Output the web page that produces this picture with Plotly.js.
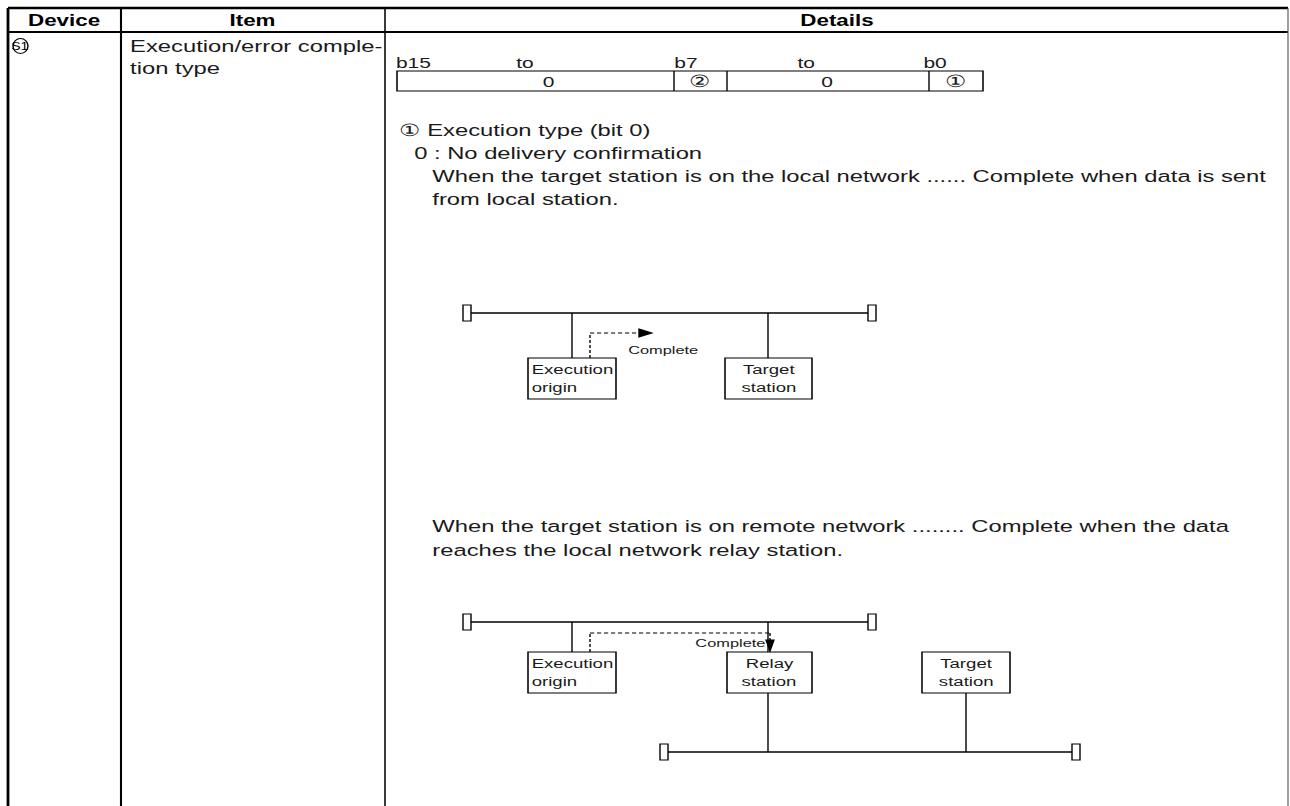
<!DOCTYPE html>
<html>
<head>
<meta charset="utf-8">
<script src="https://cdn.plot.ly/plotly-3.0.1.min.js"></script>
<style>
html,body{margin:0;padding:0;background:#fff;overflow:hidden;}
#chart{width:922px;height:806px;transform:scaleX(1.39913);transform-origin:0 0;}
</style>
</head>
<body>
<div id="chart"></div>
<script>
// ---- content (text) ----
const headers = ["Device", "Item", "Details"];
const deviceLabel = "S1";
const itemLines = ["Execution/error comple-", "tion type"];
const bitLabels = ["b15", "to", "b7", "to", "b0"];
const bitCells = ["0", "\u2461", "0", "\u2460"];
const detailLines = [
  "\u2460 Execution type (bit 0)",
  "0 : No delivery confirmation",
  "When the target station is on the local network ...... Complete when data is sent",
  "from local station."
];
const remoteLines = [
  "When the target station is on remote network ........ Complete when the data",
  "reaches the local network relay station."
];
const diag1Boxes = [["Execution", "origin"], ["Target", "station"]];
const diag2Boxes = [["Execution", "origin"], ["Relay", "station"], ["Target", "station"]];
const arrowLabel = "Complete";

// ---- drawing ----
const FONT = "Liberation Sans, Arial, Helvetica, sans-serif";
const DASH = "3px,2px";
const shapes = [];
const ann = [];
function line(x0, y0, x1, y1, w, color, dash) {
  shapes.push({type: "line", xref: "x", yref: "y", x0, y0, x1, y1,
    line: {color: color || "#000", width: w || 1.2, dash: dash || "solid"}});
}
function rect(x0, y0, x1, y1, w) {
  shapes.push({type: "rect", xref: "x", yref: "y", x0, y0, x1, y1,
    line: {color: "#000", width: w || 1.2}, fillcolor: "rgba(255,255,255,0)"});
}
function tri(path) {
  shapes.push({type: "path", xref: "x", yref: "y", path, fillcolor: "#000", line: {color: "#000", width: 1}});
}
function text(t, x, y, size, anchor, bold, color) {
  ann.push({text: bold ? "<b>" + t + "</b>" : t, x, y, xref: "x", yref: "y", showarrow: false,
    xanchor: anchor || "left", yanchor: "middle", align: anchor || "left",
    font: {family: FONT, size: size || 17, color: color || "#1a1a1a"}});
}

// table frame
line(8, 8, 1288, 8, 2.5);
line(8, 32, 1288, 32, 2);
line(8, 8, 8, 806, 2);
line(121, 8, 121, 806, 1.5);
line(385, 8, 385, 806, 1.1);
line(1288, 8, 1288, 806, 0.8, "#555");

// headers
text(headers[0], 64, 20, 16, "center", true, "#000");
text(headers[1], 253, 20, 16, "center", true, "#000");
text(headers[2], 837, 20, 16, "center", true, "#000");

// device circled S1
shapes.push({type: "circle", xref: "x", yref: "y", x0: 13, y0: 38.5, x1: 28, y1: 53.5, line: {color: "#000", width: 1}});
text(deviceLabel, 20.5, 46.5, 10, "center", false, "#000");

// item
text(itemLines[0], 127, 46, 17);
text(itemLines[1], 127, 68, 17);

// bit layout box
const bitLabelX = [413, 526, 686, 807, 936];
bitLabels.forEach((b, i) => text(b, bitLabelX[i], 62, 15, "center"));
rect(397, 71, 983, 91, 1.1);
line(674, 71, 674, 91, 1);
line(727, 71, 727, 91, 1);
line(929, 71, 929, 91, 1);
const bitCellX = [548, 700, 827, 956];
bitCells.forEach((c, i) => text(c, bitCellX[i], 81, i % 2 ? 17 : 15, "center"));

// detail texts
text(detailLines[0], 396, 130, 17);
text(detailLines[1], 412, 153, 17);
text(detailLines[2], 430, 176, 17);
text(detailLines[3], 430, 199, 17);

// diagram helpers
function terminator(x, y) { rect(x - 4, y - 8, x + 4, y + 8, 1); }
function bus(x0, x1, y) {
  line(x0 + 4, y, x1 - 4, y, 1.3);
  terminator(x0, y); terminator(x1, y);
}
function stationBox(x0, y0, x1, y1, lines, leftAlign) {
  rect(x0, y0, x1, y1, 1.1);
  const cx = leftAlign ? x0 + 1 : (x0 + x1) / 2;
  const anc = leftAlign ? "left" : "center";
  text(lines[0], cx, y0 + 11, 13.3, anc);
  text(lines[1], cx, y0 + 29, 13.3, anc);
}

// diagram 1
bus(467, 872, 313);
line(572, 313, 572, 358, 1);
line(768, 313, 768, 358, 1);
stationBox(528, 358, 616, 399, diag1Boxes[0], true);
stationBox(725, 358, 812, 399, diag1Boxes[1], false);
line(590, 358, 590, 333, 1, "#000", DASH);
line(590, 333, 640, 333, 1, "#000", DASH);
tri("M 639 329 L 652 333 L 639 337 Z");
text(arrowLabel, 625, 349, 11.7);

// remote texts
text(remoteLines[0], 430, 526, 17);
text(remoteLines[1], 430, 550, 17);

// diagram 2
bus(467, 872, 622);
line(572, 622, 572, 652, 1);
line(768, 622, 768, 652, 1);
stationBox(528, 652, 616, 693, diag2Boxes[0], true);
stationBox(727, 652, 812, 693, diag2Boxes[1], false);
stationBox(922, 652, 1010, 693, diag2Boxes[2], false);
line(590, 652, 590, 633, 1, "#000", DASH);
line(590, 633, 770, 633, 1, "#000", DASH);
line(770, 633, 770, 641, 1, "#000", DASH);
tri("M 766 640 L 774 640 L 770 651 Z");
text(arrowLabel, 692, 642, 11.7);
line(768, 693, 768, 752, 1);
line(966, 693, 966, 752, 1);
bus(664, 1076, 752);

const layout = {
  width: 922, height: 806,
  margin: {l: 0, r: 0, t: 0, b: 0, pad: 0},
  paper_bgcolor: "#fff", plot_bgcolor: "#fff",
  showlegend: false,
  xaxis: {range: [0, 1290], visible: false, fixedrange: true},
  yaxis: {range: [806, 0], visible: false, fixedrange: true},
  shapes: shapes,
  annotations: ann
};
Plotly.newPlot("chart", [{x: [], y: [], type: "scatter", mode: "markers", hoverinfo: "skip"}], layout,
  {staticPlot: true, displayModeBar: false});
</script>
</body>
</html>
